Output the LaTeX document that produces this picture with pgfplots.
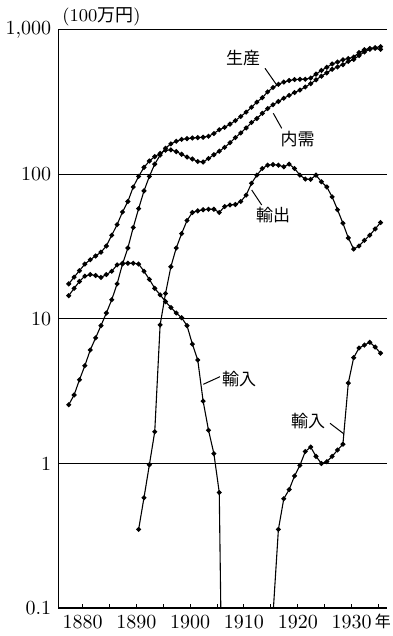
\documentclass[border=0pt]{standalone}
\usepackage{pgfplots}
\pgfplotsset{compat=1.18}
\usepackage{fontspec}
\newfontfamily\cjk{Noto Sans CJK JP}

\pgfplotstableread{
year val
1877 2.55
1878 2.98
1879 3.8
1880 4.75
1881 6.1
1882 7.4
1883 9.0
1884 11
1885 13.6
1886 17.5
1887 24
1888 31
1889 43
1890 58
1891 77
1892 97
1893 118
1894 136
1895 152
1896 163
1897 170
1898 175
1899 177
1900 179
1901 180
1902 181
1903 184
1904 192
1905 204
1906 212
1907 223
1908 236
1909 252
1910 270
1911 292
1912 317
1913 340
1914 373
1915 400
1916 421
1917 436
1918 447
1919 454
1920 456
1921 456
1922 465
1923 495
1924 525
1925 552
1926 582
1927 600
1928 622
1929 635
1930 650
1931 698
1932 730
1933 745
1934 755
1935 767
}\production

\pgfplotstableread{
year val
1877 17.5
1878 19.5
1879 21.6
1880 24
1881 25.7
1882 27.3
1883 29
1884 32
1885 38
1886 45
1887 55
1888 65
1889 82
1890 97
1891 112
1892 124
1893 133
1894 140
1895 147
1896 148
1897 144
1898 138
1899 132
1900 128
1901 123
1902 122
1903 129
1904 137
1905 145
1906 154
1907 166
1908 180
1909 194
1910 210
1911 229
1912 244
1913 265
1914 286
1915 304
1916 320
1917 337
1918 353
1919 369
1920 384
1921 403
1922 425
1923 452
1924 479
1925 505
1926 535
1927 555
1928 575
1929 605
1930 625
1931 665
1932 705
1933 735
1934 747
1935 735
}\demand

\pgfplotstableread{
year val
1890 0.35
1891 0.58
1892 0.98
1893 1.66
1894 9.1
1895 15
1896 23
1897 31
1898 39
1899 48
1900 54.6
1901 56
1902 57
1903 57.5
1904 57.5
1905 54.6
1906 60
1907 61.5
1908 62
1909 65
1910 72
1911 87
1912 99
1913 110
1914 116
1915 117
1916 116
1917 113
1918 118
1919 110
1920 99
1921 93
1922 92.5
1923 99
1924 89
1925 82
1926 70
1927 57
1928 46
1929 36.4
1930 30.5
1931 32
1932 35
1933 38
1934 42
1935 46.5
}\exports

\pgfplotstableread{
year val
1877 14.5
1878 16.3
1879 18.2
1880 19.8
1881 20.3
1882 20
1883 19.4
1884 20.3
1885 21.4
1886 23.7
1887 24.3
1888 24.3
1889 24.3
1890 24
1891 21.4
1892 18.8
1893 16.3
1894 14.7
1895 13.2
1896 12
1897 11
1898 10.2
1899 9.0
1900 6.7
1901 5.2
1902 2.7
1903 1.7
1904 1.17
1905 0.63
}\importsA

\pgfplotstableread{
year val
1916 0.35
1917 0.57
1918 0.66
1919 0.82
1920 0.97
1921 1.21
1922 1.3
1923 1.12
1924 1.0
1925 1.03
1926 1.12
1927 1.24
1928 1.36
1929 3.6
1930 5.4
1931 6.3
1932 6.6
1933 6.9
1934 6.4
1935 5.8
}\importsB

\begin{document}
\begin{tikzpicture}
\useasboundingbox (-29.15pt,-14pt) rectangle (166.85pt,304pt);
\begin{axis}[
  at={(0,0)}, anchor=south west,
  scale only axis, width=164.35pt, height=289pt,
  ymode=log, ymin=0.1, ymax=1000,
  xmin=1875.46, xmax=1936.6,
  axis x line*=bottom, axis y line*=left,
  axis line style={line width=0.6pt},
  xtick={1880,1890,1900,1910,1920,1930},
  xticklabels={1880,1890,1900,1910,1920,1930},
  minor xtick={1885,1895,1905,1915,1925,1935},
  tick align=inside, major tick length=2pt, minor tick length=2pt,
  tick style={black, line width=0.5pt},
  ytick={0.1,1,10,100,1000},
  yticklabels={0.1,1,10,100,{1,000}},
  ytick style={draw=none},
  yminorticks=false,
  ymajorgrids, grid style={black, line width=0.5pt},
  x filter/.expression={x+0.4},
  ser/.style={black, solid, line width=0.55pt, mark=*, mark size=0.95pt, mark options={solid, fill=black}},
  drop/.style={black, solid, line width=0.55pt, no marks},
  clip=true,
]
\addplot[ser] table[x=year,y=val] {\production};
\addplot[ser] table[x=year,y=val] {\demand};
\addplot[ser] table[x=year,y=val] {\exports};
\addplot[ser] table[x=year,y=val] {\importsA};
\addplot[drop] coordinates {(1905,0.63) (1906,0.001)};
\addplot[drop] coordinates {(1915,0.09) (1916,0.35)};
\addplot[ser] table[x=year,y=val] {\importsB};
\end{axis}
% annotations (units: pt from lower-left of plot area)
\node[anchor=west, inner sep=0pt] at (1.85pt,295.75pt) {\small(100{\cjk 万円})};
\begin{scope}[every node/.style={font=\fontsize{8.5}{10}\selectfont\cjk, inner sep=0pt}]
\node at (92.35pt,275pt) {生産};
\draw[line width=0.5pt] (103.35pt,269.85pt) -- (109.2pt,261.5pt);
\node at (119.6pt,234.5pt) {内需};
\draw[line width=0.5pt] (111.7pt,239.85pt) -- (107.5pt,247.35pt);
\node at (107.35pt,196.5pt) {輸出};
\draw[line width=0.5pt] (101.7pt,201.5pt) -- (96.7pt,209pt);
\node at (90.35pt,114.5pt) {輸入};
\draw[line width=0.5pt] (80.85pt,115.65pt) -- (72.5pt,111.85pt);
\node at (124.85pt,93.5pt) {輸入};
\draw[line width=0.5pt] (135.85pt,92.35pt) -- (142.85pt,87pt);
\node[font=\fontsize{8}{9}\selectfont\cjk] at (162.3pt,-6.9pt) {年};
\end{scope}
\end{tikzpicture}
\end{document}
